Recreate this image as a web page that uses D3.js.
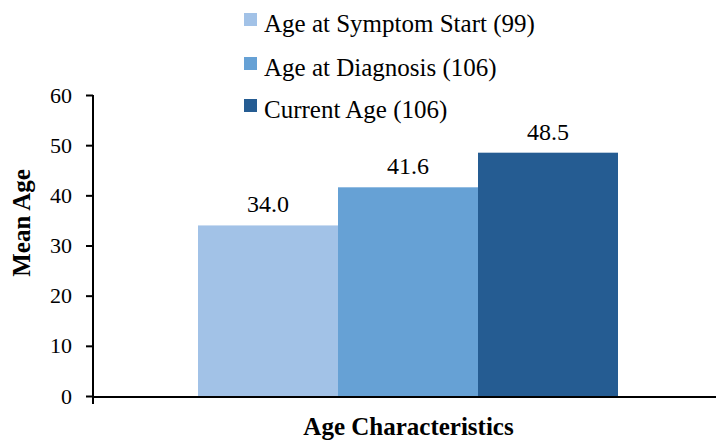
<!DOCTYPE html>
<html><head><meta charset="utf-8">
<script src="https://cdn.jsdelivr.net/npm/d3@7"></script>
<style>body{margin:0;background:#fff}svg{display:block}</style>
</head><body><svg id="c" width="716" height="440"></svg>
<script>
const seriesNames = ["Age at Symptom Start (99)", "Age at Diagnosis (106)", "Current Age (106)"];
const seriesValues = [34.0, 41.6, 48.5];
const seriesColors = ["#a2c2e7", "#66a1d5", "#255c92"];
const yTicks = [0, 10, 20, 30, 40, 50, 60];
const category = "Age Characteristics";
const yTitle = "Mean Age";
const FONT = '"Liberation Serif", "Times New Roman", serif';

const svg = d3.select("#c");
const y = d3.scaleLinear().domain([0, 60]).range([396, 95]);
const x = d3.scaleBand().domain(seriesNames).range([198, 618]).padding(0);

svg.selectAll("rect.bar").data(seriesNames).join("rect")
  .attr("class", "bar")
  .attr("x", d => x(d)).attr("width", x.bandwidth())
  .attr("y", (d, i) => y(seriesValues[i]))
  .attr("height", (d, i) => y(0) - y(seriesValues[i]))
  .attr("fill", (d, i) => seriesColors[i]);

svg.selectAll("text.val").data(seriesNames).join("text")
  .attr("class", "val")
  .attr("x", d => x(d) + x.bandwidth() / 2)
  .attr("y", (d, i) => y(seriesValues[i]) - 13)
  .attr("text-anchor", "middle").attr("fill", "#000")
  .style("font-family", FONT).style("font-size", "24px")
  .text((d, i) => seriesValues[i].toFixed(1));

const yAxis = d3.axisLeft(y).tickValues(yTicks).tickSize(7).tickPadding(14);
const gy = svg.append("g").attr("transform", "translate(93,0)").call(yAxis);
gy.select(".domain").attr("stroke", "#000").attr("stroke-width", 2).attr("d", "M0,95V397");
gy.selectAll(".tick line").attr("stroke", "#000").attr("stroke-width", 2);
gy.selectAll(".tick text").attr("fill", "#000")
  .style("font-family", FONT).style("font-size", "22px");

const xb = d3.scaleBand().domain([category]).range([93, 716]);
const xAxis = d3.axisBottom(xb).tickSize(0).tickFormat("");
const gx = svg.append("g").attr("transform", "translate(0,397)").call(xAxis);
gx.select(".domain").attr("stroke", "#000").attr("stroke-width", 2).attr("d", "M93,0H716");
gx.append("line").attr("x1", 93).attr("x2", 93).attr("y1", 0).attr("y2", 7)
  .attr("stroke", "#000").attr("stroke-width", 2);

svg.append("text").attr("x", xb(category) + xb.bandwidth() / 2 + 4).attr("y", 435)
  .attr("text-anchor", "middle").attr("font-weight", "bold")
  .style("font-family", FONT).style("font-size", "25px").text(category);
svg.append("text").attr("transform", "translate(30,223) rotate(-90)")
  .attr("text-anchor", "middle").attr("font-weight", "bold")
  .style("font-family", FONT).style("font-size", "25px").text(yTitle);

const lg = svg.append("g");
const rows = [32, 76, 118];
seriesNames.forEach((n, i) => {
  lg.append("rect").attr("x", 244).attr("y", rows[i] - 19).attr("width", 13).attr("height", 13).attr("fill", seriesColors[i]);
  lg.append("text").attr("x", 264).attr("y", rows[i]).attr("fill", "#000")
    .style("font-family", FONT).style("font-size", "25px").text(n);
});
</script></body></html>
